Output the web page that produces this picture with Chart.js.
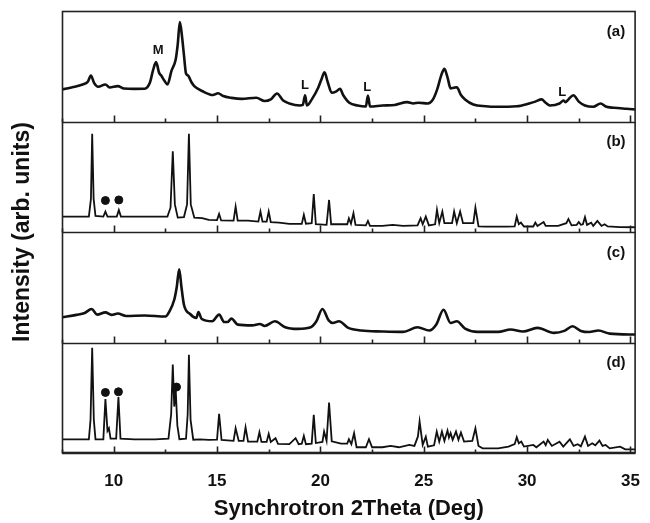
<!DOCTYPE html>
<html>
<head>
<meta charset="utf-8">
<script src="https://cdn.jsdelivr.net/npm/chart.js@4.4.1/dist/chart.umd.min.js"></script>
<style>
  html, body { margin: 0; padding: 0; background: #fff; }
</style>
</head>
<body>
<canvas id="xrdChart" width="650" height="523"></canvas>
<script>
// Synchrotron XRD patterns, four stacked panels (a)-(d)

// panel (a)
const twoThetaA = [7.5, 8.0, 8.5, 8.75, 8.9, 9.05, 9.25, 9.6, 9.8, 10.2, 10.5, 11.0, 11.5, 11.75, 11.9, 12.05, 12.2, 12.3, 12.45, 12.6, 12.8, 13.0, 13.1, 13.2, 13.3, 13.4, 13.5, 13.6, 13.75, 13.9, 14.3, 14.8, 15.05, 15.3, 15.7, 16.2, 16.9, 17.3, 17.6, 17.9, 18.2, 18.5, 19.0, 19.15, 19.26, 19.35, 19.6, 19.9, 20.05, 20.2, 20.35, 20.55, 20.75, 20.95, 21.1, 21.4, 21.8, 22.2, 22.3, 22.4, 23.0, 23.6, 24.2, 24.5, 24.75, 25.2, 25.45, 25.65, 25.85, 26.0, 26.15, 26.3, 26.45, 26.6, 26.8, 27.0, 27.4, 28.0, 28.5, 29.5, 30.1, 30.4, 30.7, 30.9, 31.1, 31.57, 31.76, 31.85, 32.0, 32.24, 32.5, 32.8, 33.2, 33.56, 33.8, 34.2, 34.8, 35.25];
const intensityA = [29, 31, 33.5, 36, 41.6, 35, 31.5, 33.5, 30.8, 32, 29.9, 29.5, 29.6, 35, 46, 53.7, 44, 41.6, 37, 33.5, 46, 56, 70, 89.9, 78, 60, 43.4, 41.6, 36, 32, 27.4, 24, 25.5, 23, 21.4, 20.5, 21.5, 18.5, 20, 25.3, 19, 16.3, 14.5, 15, 23.8, 14.5, 20.5, 30.8, 38, 44.6, 36, 26, 27, 29.5, 24, 17, 14.5, 13.6, 23.5, 13.6, 14.5, 15, 17.5, 16.3, 17, 16.3, 20, 29, 42, 47.7, 40, 30, 30.5, 31, 24, 20, 15.4, 13.8, 13.3, 13.8, 16.3, 18, 20, 17, 14.5, 16.3, 19, 17.5, 20, 23.8, 18, 14.5, 13.3, 16.3, 13.5, 12.4, 11.5, 10.9];

// panel (b)
const twoThetaB = [7.5, 8.8, 8.9, 8.96, 9.03, 9.12, 9.5, 9.6, 9.7, 10.15, 10.25, 10.35, 11.0, 12.0, 12.6, 12.75, 12.86, 12.96, 13.1, 13.4, 13.55, 13.64, 13.73, 13.9, 14.28, 14.6, 15.0, 15.1, 15.2, 15.8, 15.9, 16.0, 16.5, 17.0, 17.1, 17.2, 17.4, 17.5, 17.6, 18.0, 18.5, 19.1, 19.2, 19.3, 19.58, 19.68, 19.78, 20.3, 20.42, 20.52, 21.0, 21.3, 21.38, 21.48, 21.6, 21.7, 22.2, 22.3, 22.4, 23.0, 23.5, 24.0, 24.7, 24.85, 24.95, 25.1, 25.25, 25.55, 25.64, 25.75, 25.9, 26.0, 26.37, 26.47, 26.6, 26.76, 26.9, 27.4, 27.5, 27.65, 28.0, 29.0, 29.4, 29.5, 29.6, 29.7, 29.85, 30.3, 30.4, 30.5, 30.8, 30.9, 31.5, 31.9, 32.0, 32.15, 32.4, 32.5, 32.6, 32.7, 32.8, 32.9, 33.1, 33.2, 33.4, 33.6, 33.75, 33.9, 34.5, 35.25];
const intensityB = [13.9, 14, 30, 88.8, 30, 14.5, 14, 18.5, 14, 14, 20, 14, 13.9, 13.9, 14, 22, 73, 25, 13, 13.5, 25, 88.8, 25, 13, 12.5, 11, 10.8, 16.4, 10.5, 10.3, 23, 10.3, 10.3, 9.4, 18.5, 9.4, 9.4, 18.5, 9, 8.5, 7.3, 7.3, 15.5, 7.5, 8, 34.3, 7, 6.5, 29, 7, 7, 7, 12.4, 7.5, 17, 6.5, 6, 10, 5.5, 5.5, 6.5, 5.5, 6, 12.4, 7, 13.9, 6, 7, 20, 8, 18.5, 8, 8, 18.5, 8, 18.5, 8, 8, 22, 5, 4.8, 4.8, 5, 13.9, 7, 8.5, 5, 5, 8.5, 5.5, 9, 5.5, 5.5, 8, 11.8, 6, 6.5, 9, 6.5, 7, 13.4, 6.5, 8.5, 5.5, 10, 5.5, 7, 5, 4.5, 4.3];

// panel (c)
const twoThetaC = [7.5, 8.2, 8.6, 8.93, 9.2, 9.6, 9.9, 10.2, 10.6, 11.5, 12.5, 12.7, 12.93, 13.05, 13.17, 13.28, 13.4, 13.7, 14.0, 14.1, 14.25, 14.76, 15.1, 15.35, 15.5, 15.7, 16.0, 16.7, 17.07, 17.3, 17.8, 18.3, 18.9, 19.5, 19.8, 20.1, 20.4, 20.6, 20.9, 21.35, 21.98, 23.0, 24.0, 24.7, 25.27, 25.6, 25.96, 26.3, 26.6, 27.0, 27.6, 28.6, 29.2, 29.8, 30.5, 31.3, 31.8, 32.2, 32.6, 33.0, 33.45, 34.0, 35.25];
const intensityC = [22.8, 25, 26.7, 30.3, 25.2, 27.3, 25, 26.2, 24, 24.5, 23.5, 28.2, 38.7, 50, 66.3, 50, 34.2, 25.8, 22.2, 27.6, 21.5, 19.2, 25.2, 18.5, 18.5, 21.6, 16.2, 15.5, 16.8, 15, 19.2, 13.8, 12.3, 13.5, 19, 30.3, 20, 17.7, 19.2, 13.2, 10.8, 10, 9.6, 13.8, 10.8, 16, 29.7, 17.7, 19.2, 12.6, 9.6, 9.6, 11.7, 10, 13.2, 8.7, 10.5, 14.7, 10.5, 9.5, 10.8, 8, 7.2];

// panel (d)
const twoThetaD = [7.5, 8.8, 8.88, 8.96, 9.04, 9.12, 9.5, 9.6, 9.7, 9.77, 9.85, 10.12, 10.23, 10.33, 11.0, 12.0, 12.65, 12.78, 12.86, 12.93, 13.0, 13.08, 13.18, 13.5, 13.58, 13.64, 13.72, 13.85, 14.18, 14.6, 15.0, 15.1, 15.22, 15.8, 15.9, 16.05, 16.28, 16.38, 16.5, 16.95, 17.05, 17.15, 17.4, 17.5, 17.6, 17.83, 17.95, 18.5, 18.8, 18.95, 19.1, 19.2, 19.3, 19.58, 19.68, 19.78, 20.1, 20.18, 20.3, 20.42, 20.55, 21.0, 21.3, 21.38, 21.5, 21.63, 21.75, 22.2, 22.35, 22.5, 23.0, 23.4, 23.8, 24.3, 24.55, 24.72, 24.8, 24.95, 25.1, 25.2, 25.5, 25.63, 25.75, 25.88, 26.0, 26.15, 26.22, 26.3, 26.4, 26.56, 26.68, 26.8, 26.95, 27.35, 27.5, 27.65, 27.85, 28.6, 29.1, 29.4, 29.5, 29.6, 29.72, 29.85, 30.3, 30.45, 30.8, 30.9, 31.0, 31.2, 31.57, 31.75, 32.07, 32.25, 32.45, 32.6, 32.8, 32.95, 33.15, 33.3, 33.5, 33.65, 33.8, 34.0, 34.5, 34.75, 35.25];
const intensityD = [12.4, 12.4, 30, 95.2, 30, 12.4, 12.4, 48.8, 20, 22.4, 13, 13, 50.6, 13, 12.4, 12.4, 13, 35, 80, 42, 58, 25, 12.5, 13, 35, 89, 30, 12, 12.4, 11.8, 12, 35.5, 11.8, 11, 22.4, 11, 11, 23.3, 10.3, 10.3, 18.8, 10, 10, 17.3, 10, 13.4, 8.2, 8, 13.4, 8, 8.5, 15.5, 8, 8.5, 34.5, 9, 10, 19.4, 11, 45.7, 10.5, 8.5, 8.5, 12.4, 8, 17.9, 5.2, 5.2, 12.4, 5.2, 5.2, 6.5, 5.2, 7.3, 6.4, 15, 28.5, 7.3, 14.8, 5.8, 7, 19.4, 10.3, 19.4, 11, 20.3, 14, 18, 12, 19.4, 12, 18.5, 10.3, 11, 22.4, 6.4, 4.2, 4.2, 5.8, 8, 14.3, 8.8, 10.3, 5.8, 7.3, 5.2, 10.3, 7, 11.8, 6.4, 10.3, 5.8, 12.4, 6.4, 7.9, 6, 14.8, 6.4, 8.8, 7, 11.2, 6.4, 7.3, 4.2, 5.8, 3.3, 3.3];

// marked reflections (filled dots)
const dotThetaB = [9.6, 10.25];
const dotIntensityB = [28.5, 29];
const dotThetaD = [9.6, 10.23, 13.04];
const dotIntensityD = [54.8, 55.4, 59.7];

// letter marks inside panel (a)
const markText = ['M', 'L', 'L', 'L'];
const markTheta = [12.15, 19.26, 22.26, 31.7];
const markIntensity = [64, 32.6, 30.8, 26];

const panelNames = ['(a)', '(b)', '(c)', '(d)'];
const xTicks = [7.5, 10, 12.5, 15, 17.5, 20, 22.5, 25, 27.5, 30, 32.5, 35];

const PANEL = 100;            // height of one panel in intensity units
const FONT = "'Liberation Sans', Arial, sans-serif";
const INK = '#111';

// offsets: (a) on top, (d) at the bottom
const offsetOf = { a: 3 * PANEL, b: 2 * PANEL, c: PANEL, d: 0 };

const toPoints = (tt, ii, off) => tt.map((t, i) => ({ x: t, y: ii[i] + off }));

const panelFrame = {
  id: 'panelFrame',
  afterDraw(chart) {
    const { ctx, chartArea: area, scales: { x, y } } = chart;
    ctx.save();
    ctx.strokeStyle = '#222';
    ctx.lineWidth = 1.6;

    // separators and inward ticks at the bottom of each panel
    for (let k = 0; k < 4; k++) {
      const yb = Math.round(y.getPixelForValue(k * PANEL)) + 0.5;
      ctx.beginPath();
      ctx.moveTo(area.left, yb);
      ctx.lineTo(area.right, yb);
      xTicks.forEach(t => {
        const px = Math.round(x.getPixelForValue(t)) + 0.5;
        const len = t % 5 === 0 ? 7 : 4;
        ctx.moveTo(px, yb);
        ctx.lineTo(px, yb - len);
      });
      ctx.stroke();
    }
    ctx.strokeRect(area.left + 0.5, area.top + 0.5, area.width - 1, area.height - 1);

    // panel names
    ctx.fillStyle = INK;
    ctx.font = 'bold 15px ' + FONT;
    ctx.textAlign = 'center';
    ctx.textBaseline = 'middle';
    panelNames.forEach((name, k) => {
      const py = y.getPixelForValue((3 - k) * PANEL + 81.5);
      ctx.fillText(name, x.getPixelForValue(34.3), py);
    });

    // M / L marks
    ctx.font = 'bold 13px ' + FONT;
    markText.forEach((m, i) => {
      ctx.fillText(m, x.getPixelForValue(markTheta[i]), y.getPixelForValue(offsetOf.a + markIntensity[i]));
    });
    ctx.restore();
  }
};

const lineStyle = (w, smooth) => ({
  borderColor: INK,
  borderWidth: w,
  pointRadius: 0,
  tension: 0,
  cubicInterpolationMode: smooth ? 'monotone' : 'default',
  fill: false
});

new Chart(document.getElementById('xrdChart'), {
  type: 'line',
  data: {
    datasets: [
      { label: 'a', data: toPoints(twoThetaA, intensityA, offsetOf.a), ...lineStyle(2.6, true) },
      { label: 'b', data: toPoints(twoThetaB, intensityB, offsetOf.b), ...lineStyle(1.8, false) },
      { label: 'c', data: toPoints(twoThetaC, intensityC, offsetOf.c), ...lineStyle(2.6, true) },
      { label: 'd', data: toPoints(twoThetaD, intensityD, offsetOf.d), ...lineStyle(1.8, false) },
      {
        type: 'scatter',
        label: 'marked',
        data: toPoints(dotThetaB, dotIntensityB, offsetOf.b).concat(toPoints(dotThetaD, dotIntensityD, offsetOf.d)),
        backgroundColor: INK,
        borderColor: INK,
        pointRadius: 4,
        showLine: false
      }
    ]
  },
  options: {
    responsive: false,
    devicePixelRatio: 1,
    animation: false,
    layout: { padding: { top: 11, right: 12, left: 0, bottom: 0 } },
    plugins: {
      legend: { display: false },
      tooltip: { enabled: false }
    },
    scales: {
      x: {
        type: 'linear',
        min: 7.5,
        max: 35.25,
        afterFit: s => { s.height = 70; },
        afterBuildTicks: s => { s.ticks = xTicks.filter(t => t % 5 === 0).map(v => ({ value: v })); },
        grid: { display: false },
        border: { display: false },
        ticks: {
          color: INK,
          padding: 10,
          maxRotation: 0,
          font: { family: FONT, size: 17, weight: 'bold' }
        },
        title: {
          display: true,
          text: 'Synchrotron 2Theta (Deg)',
          color: INK,
          padding: { top: 0, bottom: 1 },
          font: { family: FONT, size: 22, weight: 'bold' }
        }
      },
      y: {
        min: 0,
        max: 4 * PANEL,
        afterFit: s => { s.width = 62; },
        grid: { display: false },
        border: { display: false },
        ticks: { display: false },
        title: {
          display: true,
          text: 'Intensity (arb. units)',
          color: INK,
          padding: { top: 9, bottom: 0 },
          font: { family: FONT, size: 23, weight: 'bold' }
        }
      }
    }
  },
  plugins: [panelFrame]
});
</script>
</body>
</html>
